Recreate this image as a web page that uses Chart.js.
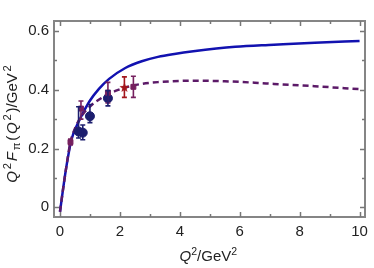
<!DOCTYPE html>
<html>
<head>
<meta charset="utf-8">
<script src="https://cdn.jsdelivr.net/npm/chart.js@4.4.1/dist/chart.umd.min.js"></script>
<style>
  html, body { margin: 0; padding: 0; background: #fff; }
  #wrap { width: 374px; height: 268px; }
</style>
</head>
<body>
<div id="wrap"><canvas id="canvas" width="374" height="268"></canvas></div>
<script>
// model curves
var blueX = [0, 0.1, 0.2, 0.38, 0.65, 0.98, 1.3, 1.64, 2.18, 2.73, 3.27, 3.82, 4.45, 5.85, 7.14, 8.5, 10];
var blueY = [-0.015, 0.06, 0.13, 0.229, 0.297, 0.36, 0.403, 0.437, 0.474, 0.497, 0.512, 0.522, 0.531, 0.546, 0.553, 0.56, 0.566];
var dashX = [0, 0.1, 0.2, 0.35, 0.5, 0.7, 1.0, 1.4, 1.85, 2.3, 2.73, 3.27, 4.0, 4.5, 5.5, 6.5, 7.14, 8.5, 10];
var dashY = [-0.015, 0.06, 0.13, 0.222, 0.268, 0.308, 0.343, 0.373, 0.396, 0.411, 0.42, 0.426, 0.43, 0.431, 0.429, 0.424, 0.42, 0.412, 0.402];

// data points with error bars
var sqX = [0.35, 0.7, 1.6, 2.45];
var sqY = [0.222, 0.336, 0.39, 0.41];
var sqLo = [0.212, 0.30, 0.355, 0.374];
var sqHi = [0.232, 0.362, 0.425, 0.446];

var starX = [2.15];
var starY = [0.408];
var starLo = [0.374];
var starHi = [0.444];

var dotX = [0.62, 0.76, 1.0, 1.6];
var dotY = [0.258, 0.254, 0.31, 0.371];
var dotLo = [0.236, 0.23, 0.288, 0.345];
var dotHi = [0.342, 0.28, 0.35, 0.397];

var xMinor = [1, 3, 5, 7, 9];
var yMinor = [0.1, 0.3, 0.5];

var blueCol = '#1212b0';
var dashCol = '#5c1a68';
var sqCol = '#76205f';
var starCol = '#a3161c';
var dotCol = '#1c1e6e';

function pts(xs, ys) {
  return xs.map(function(x, i) { return {x: x, y: ys[i]}; });
}

// small filled star for the marker
var starImg = document.createElement('canvas');
starImg.width = 11; starImg.height = 11;
(function() {
  var c = starImg.getContext('2d');
  c.fillStyle = starCol;
  c.beginPath();
  for (var i = 0; i < 10; i++) {
    var r = i % 2 ? 2.2 : 5.2;
    var a = -Math.PI / 2 + i * Math.PI / 5;
    var px = 5.5 + r * Math.cos(a), py = 5.8 + r * Math.sin(a);
    if (i == 0) c.moveTo(px, py); else c.lineTo(px, py);
  }
  c.closePath();
  c.fill();
})();

var errSets = [
  {xs: sqX, lo: sqLo, hi: sqHi, col: sqCol},
  {xs: starX, lo: starLo, hi: starHi, col: starCol},
  {xs: dotX, lo: dotLo, hi: dotHi, col: dotCol}
];

var errorBars = {
  id: 'errorBars',
  afterDatasetsDraw: function(chart) {
    var ctx = chart.ctx, xs = chart.scales.x, ys = chart.scales.y;
    ctx.save();
    ctx.lineWidth = 1.6;
    errSets.forEach(function(s) {
      ctx.strokeStyle = s.col;
      s.xs.forEach(function(x, i) {
        var px = xs.getPixelForValue(x);
        var p1 = ys.getPixelForValue(s.lo[i]);
        var p2 = ys.getPixelForValue(s.hi[i]);
        ctx.beginPath();
        ctx.moveTo(px, p1); ctx.lineTo(px, p2);
        ctx.moveTo(px - 2.5, p1); ctx.lineTo(px + 2.5, p1);
        ctx.moveTo(px - 2.5, p2); ctx.lineTo(px + 2.5, p2);
        ctx.stroke();
      });
    });
    ctx.restore();
  }
};

// draw mixed-style text pieces: [text, italic, shift]; gap = extra space after each piece
function drawRich(ctx, parts, size, small, gap) {
  var w = 0;
  parts.forEach(function(p) {
    var s = p[2] ? size * small : size;
    ctx.font = (p[1] ? 'italic ' : '') + s + 'px "Liberation Sans", Arial, sans-serif';
    p.w = ctx.measureText(p[0]).width + gap;
    w += p.w;
  });
  w -= gap;
  var x = -w / 2;
  parts.forEach(function(p) {
    var s = p[2] ? size * small : size;
    ctx.font = (p[1] ? 'italic ' : '') + s + 'px "Liberation Sans", Arial, sans-serif';
    ctx.fillText(p[0], x, p[2] ? p[2] * size : 0);
    x += p.w;
  });
}

var frame = {
  id: 'frame',
  afterDraw: function(chart) {
    var ctx = chart.ctx, a = chart.chartArea, xs = chart.scales.x, ys = chart.scales.y;
    var L = Math.round(a.left), R = Math.round(a.right), T = Math.round(a.top), B = Math.round(a.bottom);
    ctx.save();
    ctx.setLineDash([]);
    ctx.strokeStyle = '#858585';
    ctx.lineWidth = 2;
    ctx.strokeRect(L, T, R - L, B - T);
    ctx.lineWidth = 1.5;
    ctx.strokeStyle = '#777777';
    ctx.beginPath();
    xs.ticks.forEach(function(t) {
      var px = Math.round(xs.getPixelForValue(t.value)) + 0.5;
      ctx.moveTo(px, B); ctx.lineTo(px, B - 5);
      ctx.moveTo(px, T); ctx.lineTo(px, T + 5);
    });
    xMinor.forEach(function(v) {
      var px = Math.round(xs.getPixelForValue(v)) + 0.5;
      ctx.moveTo(px, B); ctx.lineTo(px, B - 3);
      ctx.moveTo(px, T); ctx.lineTo(px, T + 3);
    });
    ys.ticks.forEach(function(t) {
      var py = Math.round(ys.getPixelForValue(t.value)) + 0.5;
      ctx.moveTo(L, py); ctx.lineTo(L + 5, py);
      ctx.moveTo(R, py); ctx.lineTo(R - 5, py);
    });
    yMinor.forEach(function(v) {
      var py = Math.round(ys.getPixelForValue(v)) + 0.5;
      ctx.moveTo(L, py); ctx.lineTo(L + 3, py);
      ctx.moveTo(R, py); ctx.lineTo(R - 3, py);
    });
    ctx.stroke();

    // axis titles
    ctx.fillStyle = '#222';
    ctx.textBaseline = 'alphabetic';
    ctx.textAlign = 'left';
    ctx.save();
    ctx.translate((a.left + a.right) / 2 - 1, 261);
    drawRich(ctx, [['Q', true, 0], ['2', false, -0.4], ['/GeV', false, 0], ['2', false, -0.4]], 15, 0.7, 0);
    ctx.restore();
    ctx.save();
    ctx.translate(16.5, 124);
    ctx.rotate(-Math.PI / 2);
    drawRich(ctx, [['Q', true, 0], ['2', false, -0.4], ['F', true, 0], ['\u03c0', false, 0.25],
      ['(', false, 0], ['Q', true, 0], ['2', false, -0.4], [')/GeV', false, 0], ['2', false, -0.4]], 15, 0.75, 1.8);
    ctx.restore();
    ctx.restore();
  }
};

var tickFont = {family: '"Liberation Sans", Arial, sans-serif', size: 15};

new Chart(document.getElementById('canvas').getContext('2d'), {
  type: 'scatter',
  data: {
    datasets: [{
      type: 'line',
      data: pts(blueX, blueY),
      borderColor: blueCol,
      borderWidth: 2.5,
      pointRadius: 0,
      cubicInterpolationMode: 'monotone',
      order: 5
    }, {
      type: 'line',
      data: pts(dashX, dashY),
      borderColor: dashCol,
      borderWidth: 2.5,
      borderDash: [6, 4],
      pointRadius: 0,
      cubicInterpolationMode: 'monotone',
      order: 4
    }, {
      data: pts(dotX, dotY),
      pointStyle: 'circle',
      pointRadius: 4.5,
      backgroundColor: dotCol,
      borderColor: dotCol,
      order: 3
    }, {
      data: pts(sqX, sqY),
      pointStyle: 'rect',
      pointRadius: 3.5,
      backgroundColor: sqCol,
      borderColor: sqCol,
      order: 2
    }, {
      data: pts(starX, starY),
      pointStyle: starImg,
      order: 1
    }]
  },
  options: {
    responsive: false,
    animation: false,
    layout: {padding: {left: 0, right: 3, top: 21, bottom: 0}},
    plugins: {legend: {display: false}, tooltip: {enabled: false}},
    scales: {
      x: {
        type: 'linear',
        min: -0.2, max: 10.17,
        grid: {display: false, drawTicks: false},
        border: {display: false},
        ticks: {stepSize: 2, includeBounds: false, padding: 6, color: '#222', font: tickFont, maxRotation: 0},
        afterFit: function(s) { s.height = 51; }
      },
      y: {
        min: -0.033, max: 0.634,
        grid: {display: false, drawTicks: false},
        border: {display: false},
        ticks: {stepSize: 0.2, includeBounds: false, padding: 5, color: '#222', font: tickFont},
        afterFit: function(s) { s.width = 54; }
      }
    }
  },
  plugins: [errorBars, frame]
});
</script>
</body>
</html>
